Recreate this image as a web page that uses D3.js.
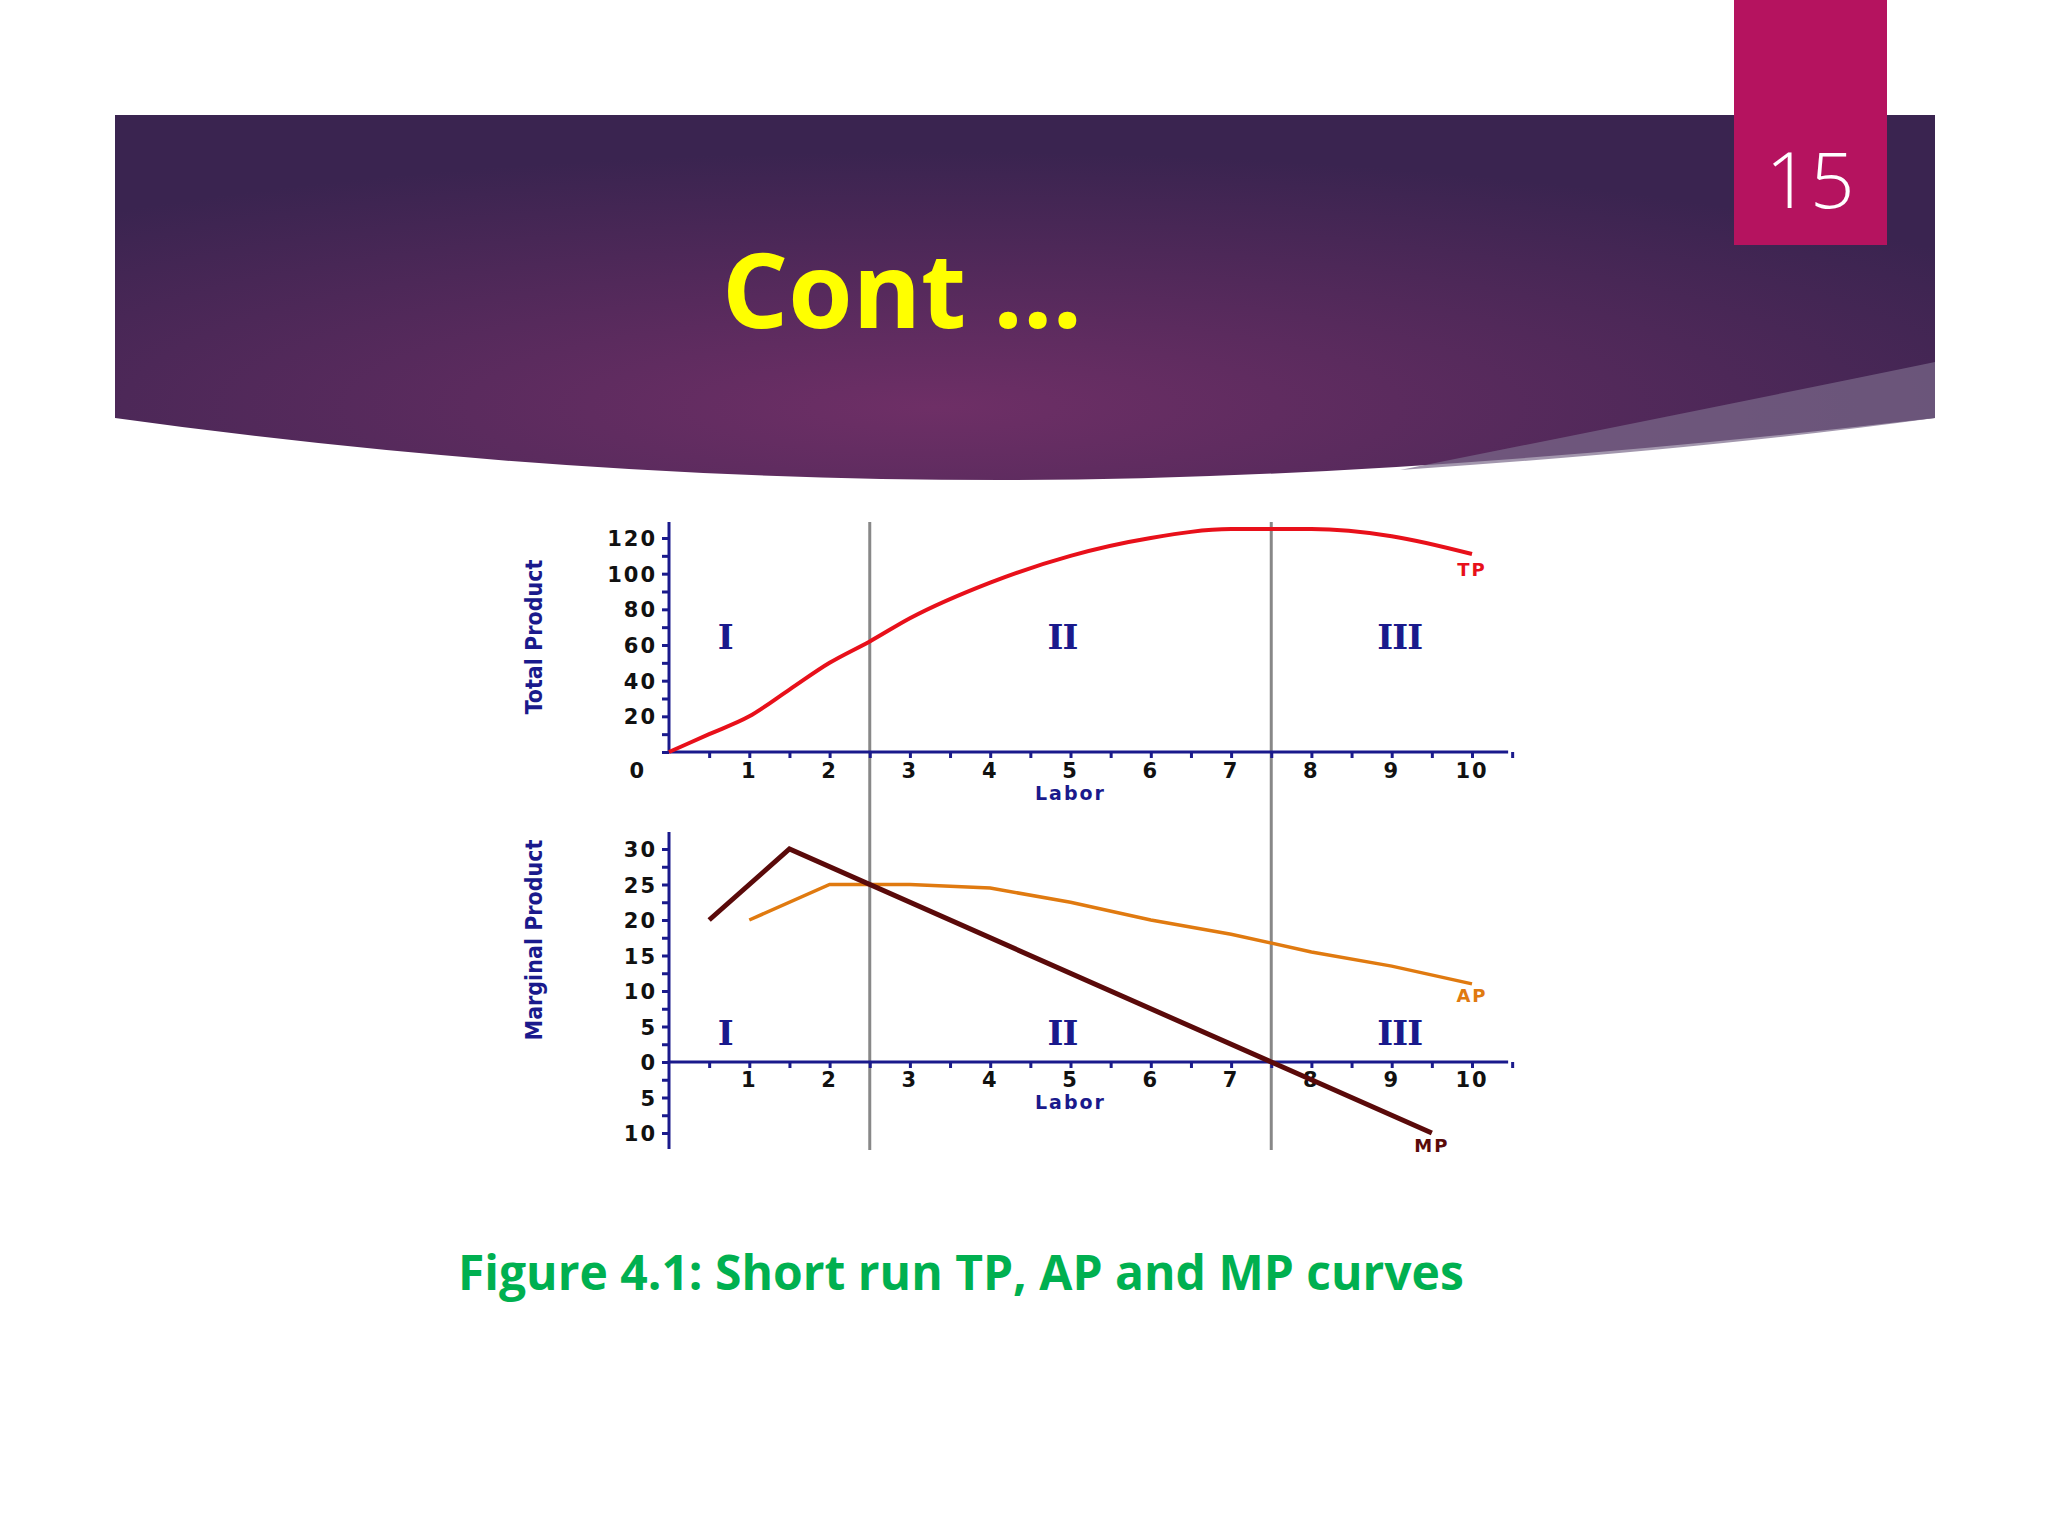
<!DOCTYPE html>
<html>
<head>
<meta charset="UTF-8">
<style>body{margin:0;background:#fff}</style>
</head>
<body>
<svg width="2048" height="1536"></svg>
<script src="https://d3js.org/d3.v7.min.js"></script>
<script>
// data
var tpLabor = [0, 0.5, 1, 1.5, 2, 2.5, 3, 4, 5, 6, 7, 8, 9, 10];
var tpValues = [0, 10, 20, 35, 50, 62, 75, 95, 110, 120, 125, 125, 121, 111];
var mpLabor = [0.5, 1.5, 7.5, 9.5];
var mpValues = [20, 30, 0, -10];
var apLabor = [1, 2, 3, 4, 5, 6, 7, 8, 9, 10];
var apValues = [20, 25, 25, 24.5, 22.5, 20, 18, 15.5, 13.5, 11];
var regions = [{x: 0.7, t: "I"}, {x: 4.9, t: "II"}, {x: 9.1, t: "III"}];
var boundaries = [2.5, 7.5];

var svg = d3.select("svg");
var navy = "#1a1a8c";

// header
var defs = svg.append("defs");
var g = defs.append("radialGradient").attr("id", "hd").attr("cx", "45%").attr("cy", "80%").attr("r", "70%");
g.append("stop").attr("offset", "0").attr("stop-color", "#6e2f66");
g.append("stop").attr("offset", "1").attr("stop-color", "#3a2450");
svg.append("path")
  .attr("d", "M115,115 L1935,115 L1935,418 Q1400,480 1000,480 Q560,480 115,418 Z")
  .attr("fill", "url(#hd)");
svg.append("path").attr("d", "M1400,470 Q1800,390 1935,362 L1935,418 Q1700,450 1400,470 Z").attr("fill", "#7a6a8a").attr("opacity", 0.7);
svg.append("text").attr("x", 722).attr("y", 328).text("Cont …")
  .attr("font-family", "Open Sans").attr("font-weight", "bold").attr("font-size", 104).attr("fill", "#ffff00");
svg.append("rect").attr("x", 1734).attr("y", 0).attr("width", 153).attr("height", 245).attr("fill", "#b5135f");
svg.append("text").attr("x", 1810).attr("y", 208).attr("text-anchor", "middle").text("15")
  .attr("font-family", "Open Sans").attr("font-weight", 300).attr("font-size", 78).attr("fill", "#fff");
svg.append("text").attr("x", 458).attr("y", 1290).text("Figure 4.1: Short run TP, AP and MP curves")
  .attr("font-family", "Open Sans").attr("font-weight", "bold").attr("font-size", 48).attr("fill", "#00b050");

var x = d3.scaleLinear().domain([0, 10]).range([669, 1472]);
var yT = d3.scaleLinear().domain([0, 120]).range([752, 538]);
var yM = d3.scaleLinear().domain([-10, 30]).range([1133, 849]);
var tickFont = "DejaVu Sans";

// boundary lines
svg.selectAll(".bd").data(boundaries).enter().append("line")
  .attr("x1", d => x(d)).attr("x2", d => x(d)).attr("y1", 522).attr("y2", 1150)
  .attr("stroke", "#888").attr("stroke-width", 3);

function axes(y, yTop, yBot, majors, minorStep, labY, title, titleY) {
  var gx = svg.append("g").attr("transform", "translate(0," + y(0) + ")")
    .call(d3.axisBottom(x).tickValues(d3.range(0.5, 10.51, 0.5)).tickFormat("").tickSize(6).tickSizeOuter(0));
  gx.select(".domain").attr("d", "M" + x(0) + ",0H" + x(10.45));
  gx.selectAll("path,line").attr("stroke", navy).attr("stroke-width", 3);
  var gy = svg.append("g").attr("transform", "translate(" + x(0) + ",0)")
    .call(d3.axisLeft(y).tickValues(d3.range(y.domain()[0], y.invert(yTop) + 0.01, minorStep)).tickFormat("").tickSize(7).tickSizeOuter(0));
  gy.select(".domain").attr("d", "M0," + yTop + "V" + yBot);
  gy.selectAll("path,line").attr("stroke", navy).attr("stroke-width", 3);
  svg.selectAll(null).data(majors).enter().append("text")
    .attr("x", x(0) - 12).attr("y", d => y(d) + 8).attr("text-anchor", "end")
    .text(d => Math.abs(d)).attr("font-family", tickFont).attr("font-weight", "bold").attr("font-size", 21)
    .attr("letter-spacing", 2).attr("fill", "#111");
  svg.selectAll(null).data(d3.range(1, 11)).enter().append("text")
    .attr("x", d => x(d)).attr("y", labY).attr("text-anchor", "middle")
    .text(d => d).attr("font-family", tickFont).attr("font-weight", "bold").attr("font-size", 21)
    .attr("letter-spacing", 2).attr("fill", "#111");
  svg.append("text").attr("x", x(5)).attr("y", labY + 22).attr("text-anchor", "middle").text("Labor")
    .attr("font-family", tickFont).attr("font-weight", "bold").attr("font-size", 19).attr("letter-spacing", 2).attr("fill", navy);
  svg.append("text").attr("transform", "translate(542," + titleY + ") rotate(-90)").attr("text-anchor", "middle").text(title)
    .attr("font-family", "DejaVu Sans Condensed").attr("font-weight", "bold").attr("font-size", 23).attr("fill", navy);
}
axes(yT, 522, 752, [20, 40, 60, 80, 100, 120], 10, 778, "Total Product", 637);
svg.append("text").attr("x", x(-0.4)).attr("y", 778).attr("text-anchor", "middle").text("0")
  .attr("font-family", tickFont).attr("font-weight", "bold").attr("font-size", 21).attr("fill", "#111");
axes(yM, 832, 1149, [30, 25, 20, 15, 10, 5, 0, -5, -10], 2.5, 1087, "Marginal Product", 940);

// region labels
function regionText(y, v) {
  svg.selectAll(null).data(regions).enter().append("text")
    .attr("x", d => x(d.x)).attr("y", y(v)).attr("text-anchor", "middle").text(d => d.t)
    .attr("font-family", "DejaVu Serif").attr("font-weight", "bold").attr("font-size", 34).attr("fill", navy)
    .attr("letter-spacing", -1);
}
regionText(yT, 58);
regionText(yM, 2.4);

// curves
var lineT = d3.line().x(d => x(d[0])).y(d => yT(d[1])).curve(d3.curveMonotoneX);
svg.append("path").datum(d3.zip(tpLabor, tpValues)).attr("d", lineT)
  .attr("fill", "none").attr("stroke", "#e8101a").attr("stroke-width", 4);
var lineM = d3.line().x(d => x(d[0])).y(d => yM(d[1]));
svg.append("path").datum(d3.zip(apLabor, apValues)).attr("d", lineM)
  .attr("fill", "none").attr("stroke", "#e07a10").attr("stroke-width", 3.5);
svg.append("path").datum(d3.zip(mpLabor, mpValues)).attr("d", lineM)
  .attr("fill", "none").attr("stroke", "#5a0a0a").attr("stroke-width", 5);

function lab(t, xv, yp, c) {
  svg.append("text").attr("x", x(xv)).attr("y", yp).attr("text-anchor", "middle").text(t)
    .attr("font-family", tickFont).attr("font-weight", "bold").attr("font-size", 18).attr("letter-spacing", 2).attr("fill", c);
}
lab("TP", 10, 576, "#e8101a");
lab("AP", 10, 1002, "#e07a10");
lab("MP", 9.5, 1152, "#5a0a0a");
</script>
</body>
</html>
